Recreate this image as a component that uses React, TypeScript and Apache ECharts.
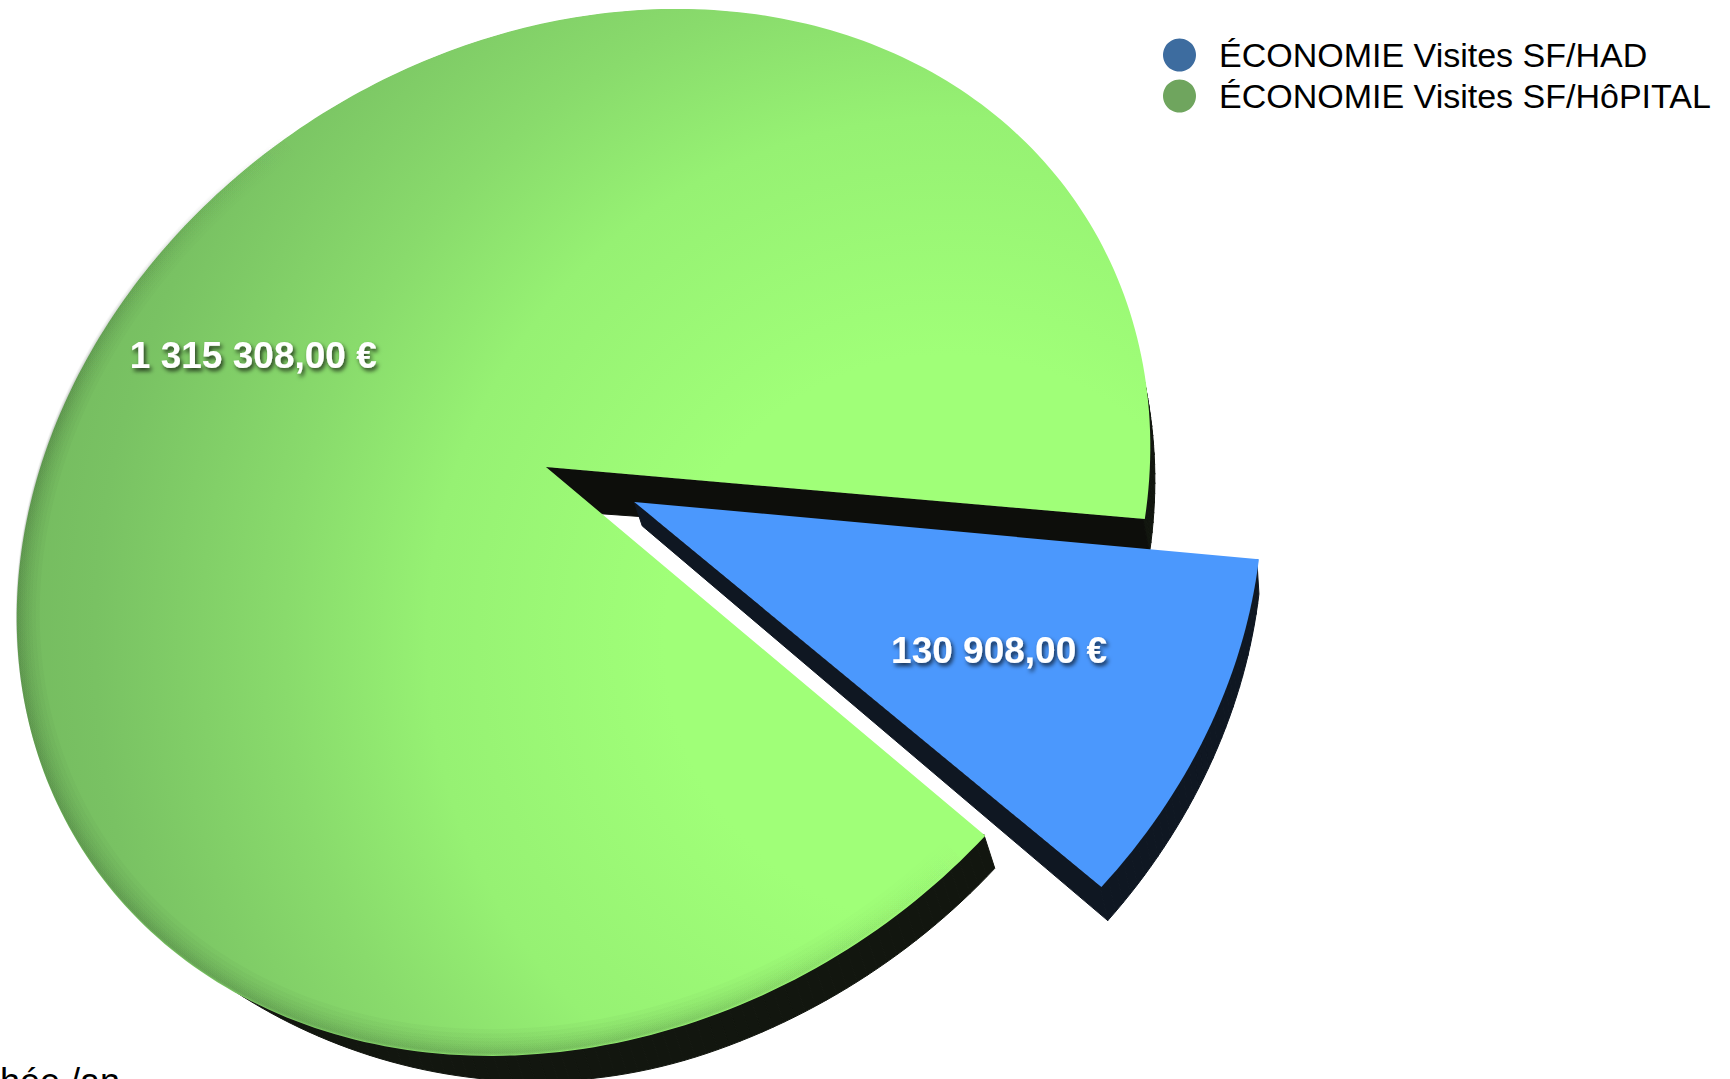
import React, { useEffect, useRef } from "react";
import * as echarts from "echarts";

const categories = ["ÉCONOMIE Visites SF/HAD", "ÉCONOMIE Visites SF/HôPITAL"];
const savings = [130908, 1315308];
const valueLabels = ["130 908,00 €", "1 315 308,00 €"];
const explodeBySlice = [0.181, 0];
const legendColors = ["#3D6C9F", "#6FA55E"];
const wallColors = ["#0F1722", "#12160F"];
const cutWallColors = ["#0F1722", "#0D0E0B"];
const footnote = "hée /an";

const FONT = "'Liberation Sans', Arial, sans-serif";
const START_ANGLE = 15;
const LABEL_RADIUS = 0.667;

// Tilted disc: the rim is an ellipse on screen and the pie's centre falls off the
// ellipse's centre, so plane coordinates go through a projective boost, then a shear.
const ELLIPSE = { cx: 583.5, cy: 532.4, rx: 566.8, ry: 523.5, skew: 0.1642 };
const HUB = { x: -0.0662, y: -0.1377 };
const beta = Math.hypot(HUB.x, HUB.y);
const gamma = Math.sqrt(1 - beta * beta);
const ex = HUB.x / beta;
const ey = HUB.y / beta;

function project(u: number, v: number): [number, number] {
  const a = u * ex + v * ey;
  const b = -u * ey + v * ex;
  const w = 1 + beta * a;
  const a2 = (a + beta) / w;
  const b2 = (b * gamma) / w;
  const p = a2 * ex - b2 * ey;
  const q = a2 * ey + b2 * ex;
  const s = Math.sqrt(1 - ELLIPSE.skew * ELLIPSE.skew);
  return [
    ELLIPSE.cx + ELLIPSE.rx * p,
    ELLIPSE.cy + ELLIPSE.ry * (-ELLIPSE.skew * p + s * q),
  ];
}

// Thickness of the disc on screen. The detached slice keeps a nearly even wall;
// the large slice's wall fades out towards the far left of the rim.
function lowerPoint(pt: number[], detached: boolean): [number, number] {
  if (detached) {
    const dx = pt[0] > 1100 ? 8 - (6 * (pt[0] - 1100)) / 160 : 8;
    return [pt[0] + dx, pt[1] + 35];
  }
  const t = Math.max(0, Math.min(1, (pt[0] - 220) / 480));
  const ease = Math.sin((t * Math.PI) / 2);
  const dx = 11 * ease - Math.max(0, pt[0] - 1000) * 0.03;
  return [pt[0] + dx, pt[1] + 34 * ease];
}

const total = savings.reduce((s, v) => s + v, 0);

function sliceStart(index: number) {
  const before = savings.slice(0, index).reduce((s, v) => s + v, 0);
  return START_ANGLE + (before / total) * 360;
}

function renderSlice(index: number) {
  return (_params: any, api: any) => {
    const value = api.value(0);
    const a0 = sliceStart(index);
    const a1 = a0 + (value / total) * 360;
    const mid = (((a0 + a1) / 2) * Math.PI) / 180;
    const off = explodeBySlice[index];
    const ox = off * Math.cos(mid);
    const oy = off * Math.sin(mid);
    const detached = index === 0;

    const rim = (scale: number) => {
      const pts: number[][] = [];
      const n = Math.ceil(a1 - a0);
      for (let i = 0; i <= n; i++) {
        const ang = ((a0 + ((a1 - a0) * i) / n) * Math.PI) / 180;
        pts.push(project(ox + scale * Math.cos(ang), oy + scale * Math.sin(ang)));
      }
      return pts;
    };

    const hub = project(ox, oy);
    const outline = [hub, ...rim(1)];
    const children: any[] = [];

    // Side wall: every outline edge swept along the disc's thickness. It starts a
    // hair inside the rim so that no dark edge shows around the top face.
    const wallTop = [hub, ...rim(0.997)];
    const low = wallTop.map((p, i) => {
      if (i > 0) return lowerPoint(p, detached);
      return detached ? [p[0] + 8, p[1] + 24] : [p[0] + 2, p[1] + 43];
    });
    // The first cut (hub to start of rim) faces away and stays hidden, so it starts at 1.
    for (let i = 1; i < wallTop.length; i++) {
      const j = (i + 1) % wallTop.length;
      const color = j === 0 ? cutWallColors[index] : wallColors[index];
      children.push({
        type: "polygon",
        shape: { points: [wallTop[i], wallTop[j], low[j], low[i]] },
        style: { fill: color, stroke: color, lineWidth: 1 },
      });
    }

    // Top face.
    const fill = detached
      ? "#4B98FD"
      : new echarts.graphic.RadialGradient(
          950,
          640,
          950,
          [
            { offset: 0, color: "#A0FF78" },
            { offset: 0.3, color: "#A0FF78" },
            { offset: 0.55, color: "#96F173" },
            { offset: 0.7, color: "#89DB6C" },
            { offset: 0.9, color: "#79C263" },
            { offset: 1, color: "#74BA5F" },
          ],
          true
        );
    children.push({ type: "polygon", shape: { points: outline }, style: { fill } });

    // Soft darkening just inside the rim, strongest on the lower left.
    if (!detached) {
      [24, 20, 16, 13, 10, 8, 6, 4, 2].forEach((width) => {
        children.push({
          type: "polyline",
          shape: { points: rim(1 - width / 2 / 550) },
          style: {
            fill: "none",
            lineWidth: width,
            stroke: new echarts.graphic.LinearGradient(
              100,
              950,
              800,
              300,
              [
                { offset: 0, color: "rgba(30,50,30,0.032)" },
                { offset: 0.35, color: "rgba(30,50,30,0.032)" },
                { offset: 0.75, color: "rgba(30,50,30,0)" },
                { offset: 1, color: "rgba(30,50,30,0)" },
              ],
              true
            ),
          },
        });
      });
    }

    const [lx, ly] = project(ox + LABEL_RADIUS * Math.cos(mid), oy + LABEL_RADIUS * Math.sin(mid));
    children.push({
      type: "text",
      x: lx,
      y: ly + 4.5,
      style: {
        text: valueLabels[index],
        fill: "#FFFFFF",
        font: `bold 37px ${FONT}`,
        align: "center",
        verticalAlign: "middle",
        textShadowColor: "rgba(0,0,0,0.7)",
        textShadowBlur: 4,
        textShadowOffsetX: 2,
        textShadowOffsetY: 3,
      },
    });
    return { type: "group", children };
  };
}

export default function App() {
  const ref = useRef<HTMLDivElement>(null);
  useEffect(() => {
    const chart = echarts.init(ref.current!, null, { renderer: "svg" });
    chart.setOption({
      animation: false,
      backgroundColor: "#FFFFFF",
      legend: {
        orient: "vertical",
        left: 1158,
        top: 33,
        itemWidth: 33,
        itemHeight: 33,
        itemGap: 7,
        icon: "circle",
        selectedMode: false,
        textStyle: { fontFamily: FONT, fontSize: 34, color: "#000000", padding: [0, 0, 0, 18] },
        data: categories.map((name, i) => ({
          name,
          icon: "circle",
          itemStyle: { color: legendColors[i] },
        })),
      },
      graphic: [
        {
          type: "text",
          left: 0,
          top: 1063,
          style: { text: footnote, fill: "#000000", font: `36px ${FONT}` },
        },
      ],
      series: categories.map((name, i) => ({
        type: "custom",
        name,
        coordinateSystem: "none",
        z: i === 0 ? 3 : 2,
        itemStyle: { color: legendColors[i] },
        renderItem: renderSlice(i),
        data: [[savings[i]]],
      })),
    });
    return () => chart.dispose();
  }, []);
  return <div ref={ref} style={{ position: "fixed", left: 0, top: 0, width: 1730, height: 1079 }} />;
}
